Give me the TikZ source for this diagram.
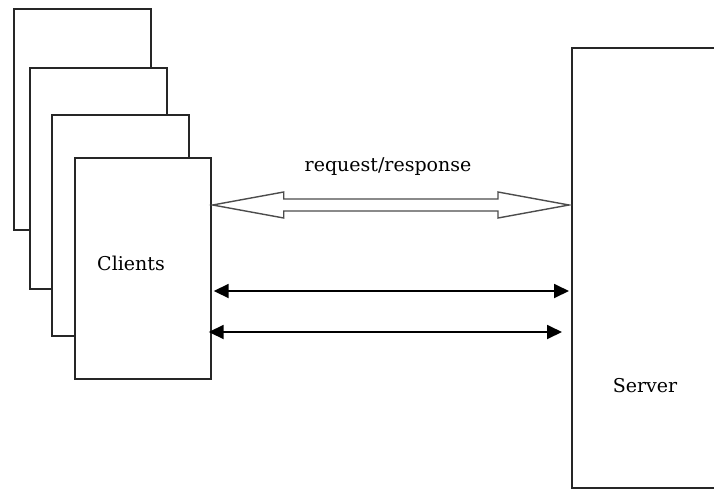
\documentclass[tikz,border=0pt]{standalone}
\usepackage{fontspec}
\setmainfont{DejaVu Serif}
\usetikzlibrary{arrows.meta,calc}
\begin{document}
\begin{tikzpicture}[x=1pt,y=-1pt,
  page/.style={draw=black!85,line width=1.7pt,fill=white,anchor=north west,inner sep=0pt,minimum width=137pt,minimum height=221pt},
  lbl/.style={font=\fontsize{19}{22}\selectfont},
  link/.style={line width=1.8pt,{Triangle[length=15pt,width=14pt]}-{Triangle[length=15pt,width=14pt]}},
  hollow/.style={draw=black!70,line width=1.4pt,fill=white}]
\useasboundingbox (0,0) rectangle (714,490);
\clip (0,0) rectangle (714,490);
\node[page] (p1) at (13,8) {};
\node[page] (p2) at (29,67) {};
\node[page] (p3) at (51,114) {};
\node[page,minimum width=136pt] (clients) at (74,157) {};
\node[lbl] (clab) at (131,263) {Clients};
\node[page,minimum width=160pt,minimum height=440pt] (server) at (571,47) {};
\node[lbl] (slab) at (645,386) {Server};
\node[lbl] (rr) at (388,167) {request/response};
% hollow double arrow
\coordinate (hl) at ($(clients.north east)+(1,48)$);
\coordinate (hr) at ($(server.north west)+(-2,158)$);
\draw[hollow] (hl) -- ++(71,-13) -- ++(0,7) -- ($(hr)+(-71,-6)$) -- ++(0,-7) -- (hr)
  -- ++(-71,13) -- ++(0,-7) -- ($(hl)+(71,6)$) -- ++(0,7) -- cycle;
% thin double arrows
\coordinate (a1l) at ($(clients.north east)+(2,134)$);
\coordinate (a1r) at ($(server.north west)+(-2,244)$);
\coordinate (a2l) at ($(clients.north east)+(-3,175)$);
\coordinate (a2r) at ($(server.north west)+(-9,285)$);
\draw[link] (a1l) -- (a1r);
\draw[link] (a2l) -- (a2r);
\end{tikzpicture}
\end{document}
